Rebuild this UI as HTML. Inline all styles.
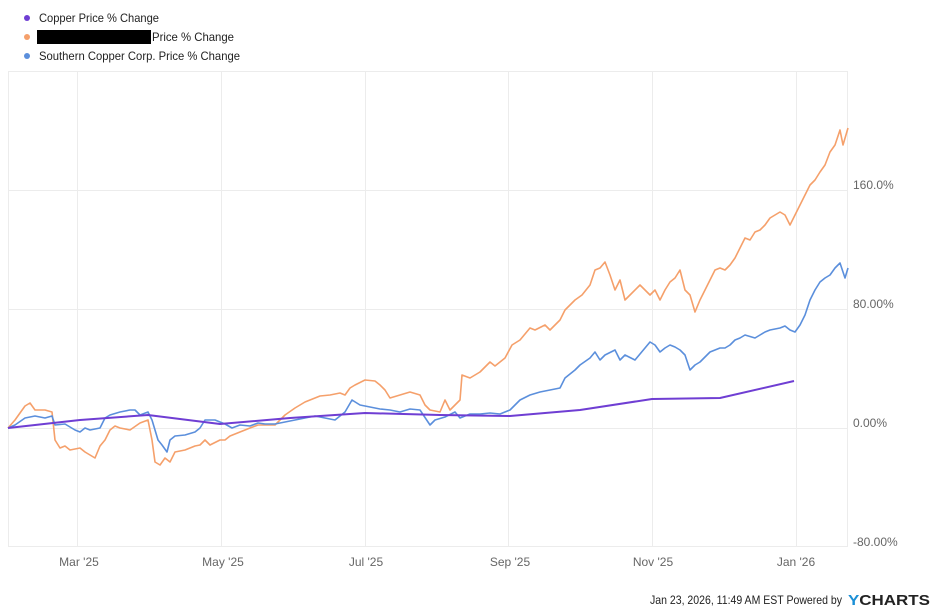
<!DOCTYPE html>
<html><head><meta charset="utf-8"><style>
body{margin:0;background:#fff;font-family:"Liberation Sans",sans-serif}
</style></head><body>
<svg width="936" height="611" xmlns="http://www.w3.org/2000/svg" font-family="Liberation Sans, sans-serif">
<rect width="936" height="611" fill="#fff"/>
<g font-size="12" fill="#222">
<circle cx="27" cy="18" r="3" fill="#6f3ed3"/><text x="39" y="22" textLength="120" lengthAdjust="spacingAndGlyphs">Copper Price % Change</text>
<circle cx="27" cy="37" r="3" fill="#f5a06b"/><rect x="37" y="30" width="114" height="14" fill="#000"/><text x="152" y="41" textLength="82" lengthAdjust="spacingAndGlyphs">Price % Change</text>
<circle cx="27" cy="56" r="3" fill="#5b8fdc"/><text x="39" y="60" textLength="201" lengthAdjust="spacingAndGlyphs">Southern Copper Corp. Price % Change</text>
</g>
<g stroke="#ececec" stroke-width="1" fill="none">
<rect x="8.5" y="71.5" width="839" height="475"/>
<line x1="77.5" y1="71" x2="77.5" y2="546"/><line x1="221.5" y1="71" x2="221.5" y2="546"/>
<line x1="365.5" y1="71" x2="365.5" y2="546"/><line x1="508.5" y1="71" x2="508.5" y2="546"/>
<line x1="652.5" y1="71" x2="652.5" y2="546"/><line x1="796.5" y1="71" x2="796.5" y2="546"/>
<line x1="8" y1="190.5" x2="848" y2="190.5"/><line x1="8" y1="309.5" x2="848" y2="309.5"/>
<line x1="8" y1="428.5" x2="848" y2="428.5"/>
</g>
<g font-size="12" fill="#666">
<text x="853" y="189">160.0%</text><text x="853" y="308">80.00%</text>
<text x="853" y="427">0.00%</text><text x="853" y="546">-80.00%</text>
<g text-anchor="middle"><text x="79" y="566">Mar '25</text><text x="223" y="566">May '25</text><text x="366" y="566">Jul '25</text><text x="510" y="566">Sep '25</text><text x="653" y="566">Nov '25</text><text x="796" y="566">Jan '26</text></g>
</g>
<text x="650" y="604" font-size="12" fill="#222" textLength="192" lengthAdjust="spacingAndGlyphs">Jan 23, 2026, 11:49 AM EST Powered by</text>
<text x="848" y="605" font-size="15" font-weight="bold" fill="#222" textLength="82" lengthAdjust="spacingAndGlyphs"><tspan fill="#1a8fd6">Y</tspan>CHARTS</text>
<g fill="none" stroke-width="1.6" stroke-linejoin="round">
<polyline stroke="#f5a06b" points="8,428 15,420 25,406 30,403 35,410 45,410 52,412 55,440 60,448 65,446 70,450 80,448 85,452 95,458 100,446 105,440 110,430 115,426 120,428 130,430 140,423 148,420 152,440 155,462 160,465 165,458 170,462 175,452 185,450 195,446 200,445 205,440 210,445 220,440 225,440 230,436 240,432 250,428 258,425 265,425 275,425 285,415 295,408 305,402 310,400 320,396 330,395 340,393 345,395 350,388 355,385 365,380 375,381 380,385 385,390 390,398 400,395 410,392 420,395 425,405 430,410 440,412 445,400 450,410 455,405 460,400 462,375 470,378 480,372 490,362 495,366 505,358 512,345 520,340 530,328 535,330 545,325 550,330 560,320 565,310 570,305 575,300 582,295 590,285 595,270 600,268 605,262 610,275 615,290 620,280 625,300 630,295 640,285 645,290 650,295 655,290 660,300 665,290 670,282 675,278 680,270 685,290 690,295 695,312 700,300 705,290 710,280 715,270 720,268 725,270 730,265 735,258 740,248 745,238 750,240 755,232 760,230 765,225 770,218 775,215 780,212 785,215 790,225 795,215 800,205 805,195 810,185 815,180 820,172 825,165 830,152 835,145 840,130 843,145 848,128"/>
<polyline stroke="#5b8fdc" points="8,428 15,425 25,418 35,416 45,418 52,416 55,425 65,424 75,430 80,432 85,428 90,430 100,428 105,418 110,415 120,412 130,410 135,410 140,415 148,412 152,420 158,440 162,445 167,452 170,440 175,436 185,435 195,432 200,428 205,420 215,420 225,424 232,428 240,425 250,426 258,423 265,424 275,424 285,422 295,420 305,418 315,416 325,418 335,420 345,412 352,400 360,405 370,407 380,409 390,410 400,412 410,409 420,410 430,425 435,420 445,417 455,412 460,418 470,414 480,414 490,413 500,414 510,410 515,405 520,400 530,395 540,392 550,390 560,388 565,378 575,370 580,365 590,358 595,352 600,360 605,355 615,350 620,360 625,355 635,360 645,348 650,342 655,345 660,352 665,348 670,345 675,347 680,350 685,355 690,370 695,365 700,362 705,357 710,352 715,350 720,348 725,348 730,345 735,340 740,338 745,335 755,338 760,335 765,332 770,330 780,328 785,326 790,330 795,332 800,325 805,315 810,300 815,290 820,282 825,278 830,275 835,268 840,263 845,278 848,268"/>
<polyline stroke="#6f3ed3" stroke-width="2" points="8,428 80,420 148,415 220,424 290,418 365,413 440,415 510,416 580,410 652,399 720,398 794,381"/>
</g>
</svg>
</body></html>
